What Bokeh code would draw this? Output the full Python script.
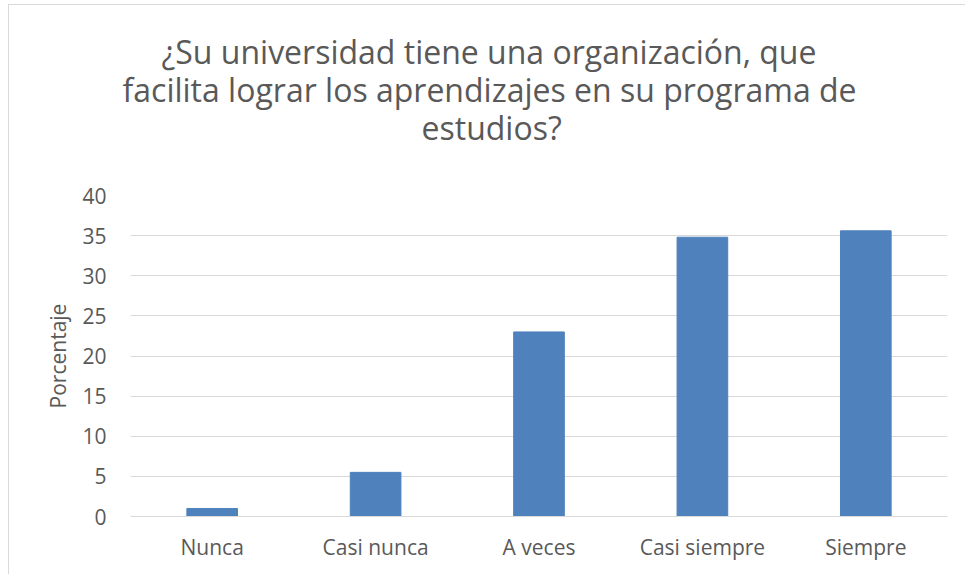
from bokeh.plotting import figure
from bokeh.models import FactorRange, Range1d, FixedTicker, Title
from bokeh.embed import file_html
from bokeh.resources import INLINE

categories = ["Nunca", "Casi nunca", "A veces", "Casi siempre", "Siempre"]
values = [1.0, 5.5, 23.0, 34.8, 35.6]
y_ticks = [0, 5, 10, 15, 20, 25, 30, 35, 40]
title_lines = [
    "¿Su universidad tiene una organización, que",
    "facilita lograr los aprendizajes en su programa de",
    "estudios?",
]
y_label = "Porcentaje"

FONT = "Open Sans"
TXT = "#595959"
GRID = "#d9d9d9"
BAR = "#4f81bd"

p = figure(
    x_range=FactorRange(*categories, range_padding=0),
    y_range=Range1d(0, 40),
    width=957, height=570,
    output_backend="svg", toolbar_location=None,
    min_border_left=121, min_border_right=19,
    min_border_top=190, min_border_bottom=59,
    title=None,
)
p.styles = {
    "margin-left": "8px", "margin-top": "4px",
    "border-left": "1px solid #d9d9d9", "border-top": "1px solid #d9d9d9",
}
p.vbar(x=categories, top=values, width=0.31, color=BAR)

p.outline_line_color = None
p.xgrid.grid_line_color = None
p.ygrid.grid_line_color = GRID
p.ygrid.grid_line_width = 1

p.yaxis.ticker = FixedTicker(ticks=y_ticks)
p.yaxis.axis_line_color = None
p.yaxis.major_tick_line_color = None
p.yaxis.minor_tick_line_color = None
p.yaxis.major_tick_out = 0
p.yaxis.major_label_standoff = 24
p.yaxis.major_label_text_font = FONT
p.yaxis.major_label_text_font_size = "21px"
p.yaxis.major_label_text_color = TXT
p.yaxis.axis_label = y_label
p.yaxis.axis_label_text_font = FONT
p.yaxis.axis_label_text_font_size = "21px"
p.yaxis.axis_label_text_font_style = "normal"
p.yaxis.axis_label_text_color = TXT
p.yaxis.axis_label_standoff = 7

p.xaxis.axis_line_color = GRID
p.xaxis.major_tick_line_color = None
p.xaxis.minor_tick_line_color = None
p.xaxis.major_tick_out = 0
p.xaxis.major_label_standoff = 16
p.xaxis.major_label_text_font = FONT
p.xaxis.major_label_text_font_size = "21px"
p.xaxis.major_label_text_color = TXT

# spacer between the plot frame and the title block
p.add_layout(Title(text=" ", text_font_size="1px", standoff=47), "above")

# title lines, stacked upward from the plot frame (last line first)
title_offsets = [31, -8, 291]
for line, off in reversed(list(zip(title_lines, title_offsets))):
    p.add_layout(Title(
        text=line, align="left", offset=off, standoff=-7.5,
        text_font=FONT, text_font_size="32px", text_font_style="normal",
        text_color=TXT,
    ), "above")

open("out.html", "w").write(file_html(p, INLINE))
